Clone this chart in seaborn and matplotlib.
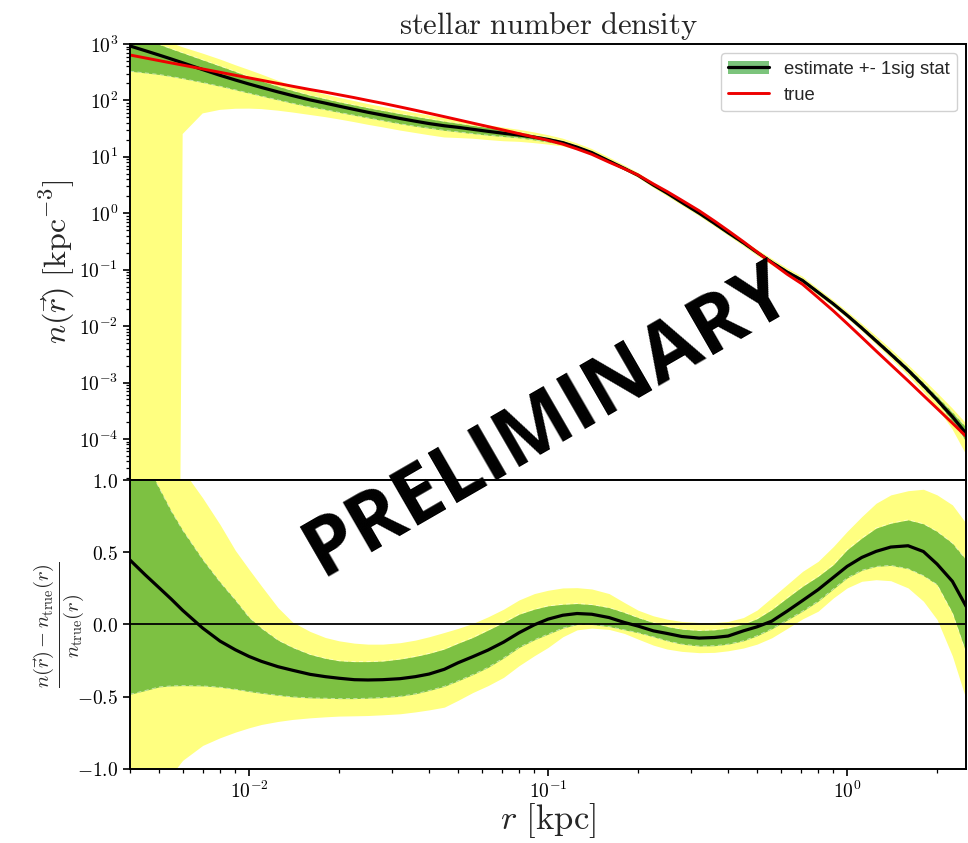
import numpy as np
import matplotlib
matplotlib.use("Agg")
import matplotlib.pyplot as plt
import seaborn as sns
from matplotlib.ticker import LogLocator, FuncFormatter, FixedLocator, NullFormatter
from matplotlib.patches import Patch
from matplotlib.lines import Line2D

# radius grid [kpc]
r_kpc = [0.004, 0.0045, 0.005, 0.0055, 0.006, 0.007, 0.008, 0.009, 0.01, 0.011,
         0.0125, 0.014, 0.016, 0.018, 0.02, 0.0225, 0.025, 0.028, 0.032, 0.036,
         0.04, 0.045, 0.05, 0.056, 0.063, 0.071, 0.08, 0.09, 0.1, 0.112,
         0.125, 0.14, 0.16, 0.18, 0.2, 0.225, 0.25, 0.28, 0.32, 0.36,
         0.4, 0.45, 0.5, 0.56, 0.63, 0.71, 0.8, 0.9, 1.0, 1.12,
         1.25, 1.4, 1.6, 1.8, 2.0, 2.25, 2.5]

# true stellar number density [kpc^-3]
n_true = [638, 566, 508, 461, 423, 361, 315, 279, 251, 228,
          200, 178, 156, 140, 126, 112, 100, 88.9, 76.6, 67.0,
          59.2, 51.5, 45.4, 39.6, 34.4, 29.8, 25.8, 22.3, 19.6, 16.8,
          13.8, 11.1, 8.04, 6.14, 4.76, 3.31, 2.43, 1.70, 1.11, 0.730,
          0.493, 0.314, 0.206, 0.132, 0.0832, 0.0550, 0.0320, 0.0186, 0.0111, 6.31e-3,
          3.63e-3, 2.07e-3, 1.07e-3, 5.89e-4, 3.47e-4, 1.91e-4, 1.11e-4]

# relative deviation of the estimate from the true profile
rel_est = [0.446, 0.343, 0.255, 0.175, 0.098, -0.025, -0.115, -0.175, -0.221, -0.255,
           -0.292, -0.317, -0.345, -0.361, -0.372, -0.382, -0.384, -0.382, -0.375, -0.361,
           -0.343, -0.31, -0.265, -0.223, -0.177, -0.122, -0.057, -0.002, 0.037, 0.064,
           0.076, 0.071, 0.048, 0.014, -0.011, -0.044, -0.062, -0.083, -0.094, -0.09,
           -0.08, -0.044, -0.016, 0.023, 0.092, 0.166, 0.241, 0.326, 0.402, 0.464,
           0.506, 0.536, 0.545, 0.505, 0.418, 0.299, 0.126]

# 1 sigma band (relative)
rel_1sig_lo = [-0.483, -0.457, -0.432, -0.425, -0.423, -0.425, -0.434, -0.448, -0.464, -0.476,
               -0.49, -0.501, -0.508, -0.51, -0.513, -0.513, -0.51, -0.506, -0.497, -0.48,
               -0.457, -0.428, -0.39, -0.347, -0.297, -0.232, -0.159, -0.106, -0.067, -0.025,
               0.0, 0.0, -0.014, -0.037, -0.057, -0.085, -0.113, -0.136, -0.149, -0.147,
               -0.136, -0.113, -0.078, -0.03, 0.03, 0.092, 0.161, 0.246, 0.322, 0.375,
               0.402, 0.409, 0.386, 0.338, 0.276, 0.08, -0.195]
rel_1sig_hi = [1.35, 1.13, 0.947, 0.784, 0.653, 0.45, 0.294, 0.17, 0.05, -0.025,
               -0.108, -0.159, -0.207, -0.234, -0.251, -0.257, -0.257, -0.253, -0.239, -0.221,
               -0.2, -0.17, -0.13, -0.09, -0.039, 0.014, 0.071, 0.106, 0.129, 0.14,
               0.145, 0.138, 0.117, 0.083, 0.048, 0.014, -0.014, -0.032, -0.041, -0.037,
               -0.025, 0.002, 0.04, 0.103, 0.184, 0.264, 0.333, 0.414, 0.517, 0.598,
               0.667, 0.701, 0.724, 0.697, 0.644, 0.563, 0.448]

# 2 sigma band (relative)
rel_2sig_lo = [-1.6, -1.35, -1.17, -1.04, -0.94, -0.837, -0.784, -0.745, -0.715, -0.692,
               -0.671, -0.657, -0.646, -0.639, -0.634, -0.632, -0.63, -0.625, -0.618, -0.605,
               -0.591, -0.572, -0.525, -0.471, -0.423, -0.366, -0.285, -0.216, -0.159, -0.085,
               -0.037, -0.025, -0.034, -0.062, -0.101, -0.143, -0.17, -0.186, -0.195, -0.193,
               -0.182, -0.163, -0.136, -0.092, -0.028, 0.039, 0.092, 0.184, 0.253, 0.299,
               0.31, 0.303, 0.253, 0.161, 0.034, -0.218, -0.517]
rel_2sig_hi = [2.3, 1.8, 1.5, 1.25, 1.07, 0.876, 0.692, 0.513, 0.382, 0.267,
               0.117, 0.016, -0.048, -0.09, -0.113, -0.129, -0.136, -0.136, -0.126, -0.108,
               -0.085, -0.055, -0.027, 0.007, 0.053, 0.106, 0.17, 0.214, 0.237, 0.253,
               0.255, 0.246, 0.214, 0.152, 0.099, 0.06, 0.037, 0.021, 0.014, 0.014,
               0.021, 0.048, 0.1, 0.186, 0.276, 0.368, 0.437, 0.54, 0.644, 0.747,
               0.839, 0.897, 0.926, 0.936, 0.897, 0.828, 0.701]

# labelled decades on each axis
density_decades = [1e-4, 1e-3, 1e-2, 1e-1, 1e0, 1e1, 1e2, 1e3]
radius_decades = [1e-2, 1e-1, 1e0]
deviation_ticks = [-1.0, -0.5, 0.0, 0.5, 1.0]

YELLOW = "#ffff80"
GREEN = "#7dc142"
RED = "#ee0000"

sns.set_style("ticks")
plt.rcParams.update({
    "mathtext.fontset": "cm",
    "font.family": ["DejaVu Sans"],
    "axes.linewidth": 1.4,
    "axes.edgecolor": "black",
    "xtick.color": "black",
    "ytick.color": "black",
    "xtick.direction": "out",
    "ytick.direction": "out",
    "xtick.major.size": 5,
    "ytick.major.size": 5,
    "xtick.minor.size": 3,
    "ytick.minor.size": 3,
    "xtick.major.width": 1.2,
    "ytick.major.width": 1.2,
    "xtick.minor.width": 0.9,
    "ytick.minor.width": 0.9,
})

r = np.asarray(r_kpc)
nt = np.asarray(n_true)


def density(rel):
    return np.clip(nt * (1.0 + np.asarray(rel)), 1e-30, None)


def decade_label(v, _):
    return r"$10^{%d}$" % int(round(np.log10(v)))


fig = plt.figure(figsize=(9.68, 8.43), dpi=100)
ax_top = fig.add_axes([0.1343, 0.4306, 0.8637, 0.5172])
ax_bot = fig.add_axes([0.1343, 0.0878, 0.8637, 0.3428], sharex=ax_top)

dash = (0, (5, 4))

# ---- upper panel: density profile ----
ax_top.set_xscale("log")
ax_top.set_yscale("log")
ax_top.fill_between(r, density(rel_2sig_lo), density(rel_2sig_hi), color=YELLOW, lw=0)
ax_top.fill_between(r, density(rel_1sig_lo), density(rel_1sig_hi), color=GREEN, lw=0)
for band in (rel_1sig_lo, rel_1sig_hi):
    ax_top.plot(r, density(band), color="white", lw=0.6, ls=dash, alpha=0.6)
sns.lineplot(x=r, y=density(rel_est), ax=ax_top, color="black", lw=2.3, estimator=None)
sns.lineplot(x=r, y=nt, ax=ax_top, color=RED, lw=2.1, estimator=None)

ax_top.set_xlim(0.004, 2.5)
ax_top.set_ylim(1.87e-5, 1e3)
ax_top.yaxis.set_major_locator(FixedLocator(density_decades))
ax_top.yaxis.set_minor_locator(LogLocator(base=10, subs=np.arange(2, 10), numticks=20))
ax_top.yaxis.set_major_formatter(FuncFormatter(decade_label))
ax_top.yaxis.set_minor_formatter(NullFormatter())
ax_top.tick_params(axis="x", which="both", bottom=False, labelbottom=False)
ax_top.tick_params(axis="y", labelsize=14)
ax_top.set_ylabel(r"$n(\vec{r})\ [\mathrm{kpc}^{-3}]$", fontsize=23)
ax_top.yaxis.set_label_coords(-0.063, 0.5)
ax_top.set_title(r"$\mathrm{stellar\ number\ density}$", fontsize=22, pad=7)

legend_handles = [
    (Patch(facecolor="#7cc47c", edgecolor="none"), Line2D([], [], color="black", lw=2.3)),
    Line2D([], [], color=RED, lw=2.1),
]
ax_top.legend(legend_handles, ["estimate +- 1sig stat", "true"], loc="upper right",
              prop={"family": "Liberation Sans", "size": 13.3}, handlelength=2.2,
              frameon=True, fancybox=True, framealpha=0.9, edgecolor="#cccccc",
              borderaxespad=0.5)

# ---- lower panel: relative deviation ----
ax_bot.fill_between(r, rel_2sig_lo, rel_2sig_hi, color=YELLOW, lw=0)
ax_bot.fill_between(r, rel_1sig_lo, rel_1sig_hi, color=GREEN, lw=0)
for band in (rel_1sig_lo, rel_1sig_hi):
    ax_bot.plot(r, band, color="white", lw=0.6, ls=dash, alpha=0.6)
sns.lineplot(x=r, y=rel_est, ax=ax_bot, color="black", lw=2.3, estimator=None)
ax_bot.axhline(0.0, color="black", lw=1.3)

ax_bot.set_xlim(0.004, 2.5)
ax_bot.set_ylim(-1.0, 1.0)
ax_bot.yaxis.set_major_locator(FixedLocator(deviation_ticks))
ax_bot.yaxis.set_major_formatter(FuncFormatter(lambda v, _: r"$%.1f$" % v))
ax_bot.xaxis.set_major_locator(FixedLocator(radius_decades))
ax_bot.xaxis.set_minor_locator(LogLocator(base=10, subs=np.arange(2, 10), numticks=10))
ax_bot.xaxis.set_major_formatter(FuncFormatter(decade_label))
ax_bot.xaxis.set_minor_formatter(NullFormatter())
ax_bot.tick_params(labelsize=14)
ax_bot.set_ylabel(r"$\frac{n(\vec{r}) - n_{\mathrm{true}}(r)}{n_{\mathrm{true}}(r)}$",
                  fontsize=21)
ax_bot.yaxis.set_label_coords(-0.051, 0.5)
ax_bot.set_xlabel(r"$r\ [\mathrm{kpc}]$", fontsize=25)
ax_bot.xaxis.set_label_coords(0.5, -0.11)

for ax in (ax_top, ax_bot):
    for side in ("top", "right", "left", "bottom"):
        ax.spines[side].set_visible(True)

fig.text(0.567, 0.500, "PRELIMINARY", rotation=30, ha="center", va="center",
         rotation_mode="anchor", fontsize=58, fontweight="bold", family="Open Sans",
         color="black")

fig.savefig("out.png", dpi=100)
